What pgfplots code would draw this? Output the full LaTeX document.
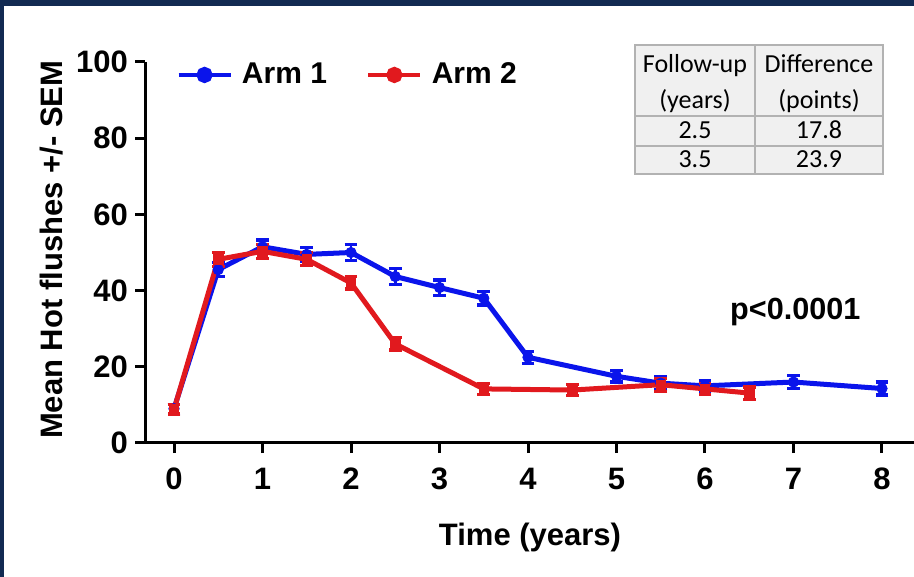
\documentclass[border=0pt]{standalone}
\usepackage{fontspec}
\setmainfont{Liberation Sans}
\newfontfamily\calibri{Carlito}
\usepackage{pgfplots}
\pgfplotsset{compat=1.18}
\definecolor{armblue}{RGB}{10,20,235}
\definecolor{armred}{RGB}{225,25,30}
\definecolor{navy}{RGB}{18,42,82}
\definecolor{tabfill}{RGB}{240,240,240}
\definecolor{tabline}{RGB}{178,178,178}

% x, mean, SEM
\pgfplotstableread{
x   y    e
0   9.0  1.2
0.5 45.5 1.8
1   51.5 1.8
1.5 49.5 1.8
2   50.0 2.0
2.5 43.7 2.1
3   40.8 2.0
3.5 38.0 1.8
4   22.5 1.6
5   17.5 1.5
5.5 15.7 1.6
6   15.0 1.5
7   16.0 1.7
8   14.3 1.7
}\armone
\pgfplotstableread{
x   y    e
0   8.8  1.2
0.5 48.2 1.8
1   50.3 1.8
1.5 48.2 1.7
2   42.0 1.6
2.5 26.0 1.6
3.5 14.2 1.4
4.5 13.9 1.5
5.5 15.3 1.7
6   14.2 1.5
6.5 13.1 1.6
}\armtwo

\begin{document}
\begin{tikzpicture}
\path[use as bounding box] (-72.5pt,-67pt) rectangle (384.5pt,221.5pt);
\fill[white] (-72.5pt,-67pt) rectangle (384.5pt,221.5pt);
\begin{axis}[
  at={(0,0)}, anchor=south west,
  scale only axis, width=384.5pt, height=190.5pt,
  xmin=-0.3277, xmax=8.3616, ymin=0, ymax=100,
  axis lines=left,
  axis line style={-, line width=1.5pt},
  xtick={0,1,...,8}, ytick={0,20,...,100},
  tick align=outside, major tick length=5pt,
  tick style={line width=1.5pt, black},
  /pgf/number format/assume math mode=true,
  tick label style={font=\fontsize{15.5}{18}\selectfont\bfseries},
  xticklabel style={yshift=-4pt},
  label style={font=\fontsize{15.5}{18}\selectfont\bfseries},
  xlabel={Time (years)}, ylabel={Mean Hot flushes +/- SEM},
  xlabel style={at={(axis description cs:0.5007,-0.2467)}, anchor=center},
  ylabel style={at={(axis description cs:-0.121,0.507)}, anchor=center},
  legend style={draw=none, fill=none, at={(axis description cs:0.040,0.966)},
    anchor=west, inner sep=0pt, font=\fontsize{15}{18}\selectfont\bfseries,
    nodes={inner xsep=4.5pt},
    /tikz/every even column/.append style={column sep=15pt}},
  legend columns=2,
  legend image code/.code={
    \draw[#1, mark=none, line width=2.4pt] (0pt,0pt) -- (26pt,0pt);
    \fill[#1] (13pt,0pt) circle (2.8pt);},
  clip=false,
]
\addplot[armblue, line width=2.5pt, mark=*, mark size=2.6pt, mark options={solid, line width=0.4pt},
  error bars/.cd, y dir=both, y explicit,
  error bar style={line width=1.4pt},
  error mark options={rotate=90, mark size=3.2pt, line width=1.6pt}]
  table[x=x, y=y, y error=e] {\armone};
\addlegendentry{Arm 1}
\addplot[armred, line width=2.5pt, mark=square*, mark size=2.4pt, mark options={solid, line width=0.4pt},
  error bars/.cd, y dir=both, y explicit,
  error bar style={line width=1.4pt},
  error mark options={rotate=90, mark size=3.2pt, line width=1.6pt}]
  table[x=x, y=y, y error=e] {\armtwo};
\addlegendentry{Arm 2}
\node[font=\fontsize{15.3}{18}\selectfont\bfseries] at (axis cs:7.02,34.4) {p<0.0001};
\end{axis}
% summary table
\fill[tabfill] (245pt,134.5pt) rectangle (369pt,199pt);
\draw[tabline, line width=0.8pt] (245pt,134.5pt) rectangle (369pt,199pt);
\draw[tabline, line width=0.8pt] (305pt,134.5pt) -- (305pt,199pt)
  (245pt,163.5pt) -- (369pt,163.5pt) (245pt,148.5pt) -- (369pt,148.5pt);
\begin{scope}[every node/.style={font=\calibri\fontsize{13}{15}\selectfont, inner sep=0pt, text height=8.8pt, text depth=2.6pt}]
\node at (275pt,188.5pt) {Follow-up};
\node at (275pt,170.5pt) {(years)};
\node at (337pt,188.5pt) {Difference};
\node at (337pt,170.5pt) {(points)};
\node at (275pt,155.5pt) {2.5};
\node at (337pt,155.5pt) {17.8};
\node at (275pt,141pt) {3.5};
\node at (337pt,141pt) {23.9};
\end{scope}
% frame
\fill[navy] (-72.5pt,218.5pt) rectangle (384.5pt,221.5pt);
\fill[navy] (-72.5pt,-67pt) rectangle (-70.5pt,221.5pt);
\end{tikzpicture}
\end{document}
